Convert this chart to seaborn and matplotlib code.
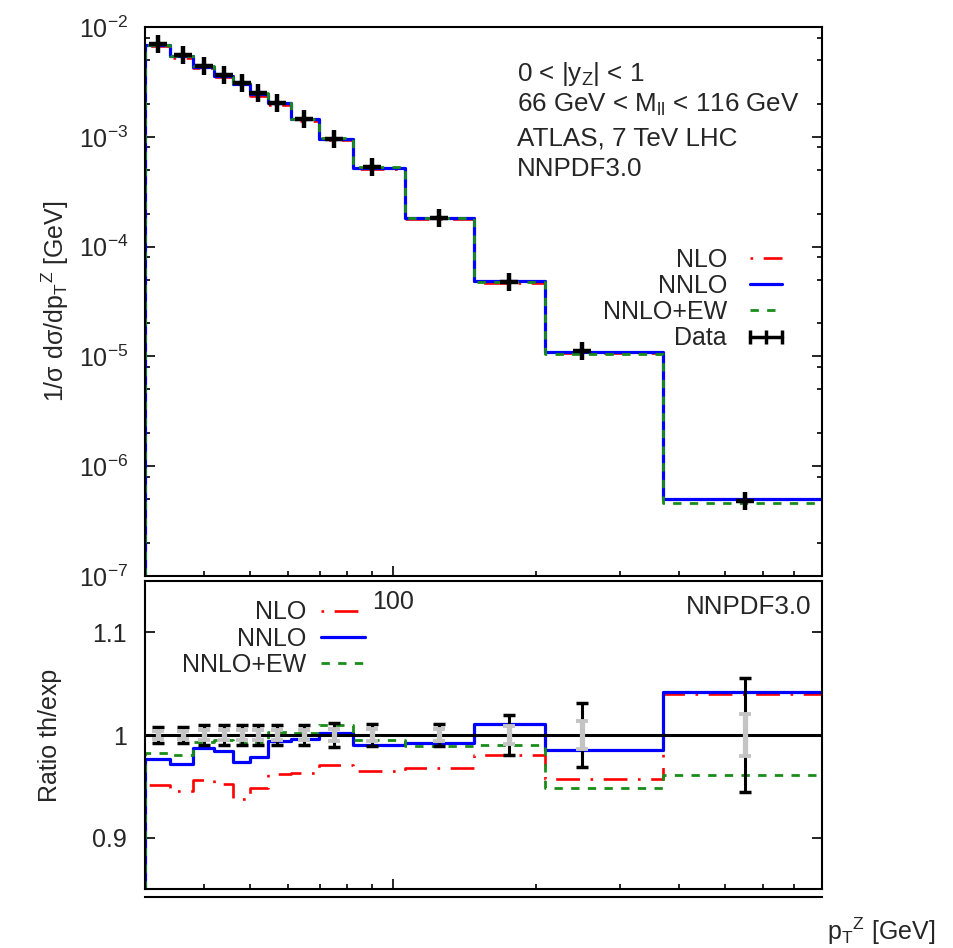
import numpy as np
import pandas as pd
import matplotlib
matplotlib.use("Agg")
import matplotlib.pyplot as plt
import seaborn as sns
from matplotlib.lines import Line2D
from matplotlib.ticker import LogLocator, FixedLocator, NullFormatter, FixedFormatter, LogFormatterMathtext, FuncFormatter, NullLocator

# ---------------- data ----------------
pt_center = [32, 36, 40, 44, 48, 52, 57, 65, 75, 90, 125, 175, 250, 550]
data = [7.0e-3, 5.56e-3, 4.4e-3, 3.66e-3, 3.1e-3, 2.5e-3, 2.03e-3, 1.45e-3,
        9.6e-4, 5.3e-4, 1.83e-4, 4.8e-5, 1.12e-5, 4.8e-7]
ratio_nlo = [0.951, 0.945, 0.956, 0.952, 0.938, 0.948, 0.962, 0.963,
             0.971, 0.965, 0.968, 0.981, 0.957, 1.040]
ratio_nnlo = [0.977, 0.972, 0.987, 0.984, 0.974, 0.979, 0.994, 0.996,
              1.002, 0.990, 0.992, 1.011, 0.985, 1.042]
ratio_nnlo_ew = [0.982, 0.981, 0.993, 0.995, 0.992, 0.993, 1.003, 1.002,
                 1.010, 0.995, 0.989, 0.990, 0.948, 0.961]
err_tot = [0.008, 0.008, 0.010, 0.010, 0.010, 0.010, 0.010, 0.010,
           0.012, 0.011, 0.011, 0.019, 0.031, 0.056]
err_stat = [0.004, 0.004, 0.005, 0.005, 0.005, 0.005, 0.005, 0.005,
            0.006, 0.006, 0.006, 0.009, 0.014, 0.020]
series_labels = ["NLO", "NNLO", "NNLO+EW"]
x_tick_label = ["100"]

# ---------------- style ----------------
sns.set_style("ticks")
plt.rcParams["font.family"] = ["Liberation Sans", "DejaVu Sans"]
plt.rcParams["mathtext.fontset"] = "custom"
plt.rcParams["mathtext.rm"] = "Liberation Sans"
plt.rcParams["mathtext.it"] = "Liberation Sans:italic"
plt.rcParams["mathtext.bf"] = "Liberation Sans:bold"
plt.rcParams["mathtext.default"] = "regular"
plt.rcParams["axes.linewidth"] = 1.5
plt.rcParams["axes.edgecolor"] = "black"

FS = 18
FS_NOTE = 18.7
XMIN, XMAX = 30, 800
TOP_YMIN, TOP_YMAX = 1e-7, 1e-2
R_YMIN, R_YMAX = 0.85, 1.15

colors = {"NLO": "#ff0000", "NNLO": "#0000ff", "NNLO+EW": "#1a8c1a"}
styles = {"NLO": (0, (1, 4, 9, 4)), "NNLO": "-", "NNLO+EW": (0, (3, 3))}
widths = {"NLO": 1.9, "NNLO": 2.3, "NNLO+EW": 2.0}

fig = plt.figure(figsize=(9.54, 9.48), dpi=100)
L = 145 / 954
W = (822 - 145) / 954
ax1 = fig.add_axes([L, 1 - 576 / 948, W, (576 - 27) / 948])
ax2 = fig.add_axes([L, 1 - 889 / 948, W, (889 - 581) / 948])
ax3 = fig.add_axes([L, 0, W, 1 - 897 / 948])
ax1.set_zorder(3)
ax1.patch.set_alpha(0)

for ax in (ax1, ax2):
    ax.set_xscale("log")
    ax.set_xlim(XMIN, XMAX)
ax1.set_yscale("log")
ax1.set_ylim(TOP_YMIN, TOP_YMAX)
ax2.set_ylim(R_YMIN, R_YMAX)

x = np.asarray(pt_center, float)
edges = np.sqrt(x[:-1] * x[1:])
step_x = np.concatenate([[XMIN, XMIN], edges, [XMAX]])


def stepify(vals, bottom):
    v = np.asarray(vals, float)
    return np.concatenate([[bottom], v, [v[-1]]])


ratios = {"NLO": ratio_nlo, "NNLO": ratio_nnlo, "NNLO+EW": ratio_nnlo_ew}
for lab in series_labels:
    r = np.asarray(ratios[lab])
    th = np.asarray(data) * r
    sns.lineplot(x=step_x, y=stepify(th, TOP_YMIN), ax=ax1, sort=False, estimator=None,
                 drawstyle="steps-post", color=colors[lab], linestyle=styles[lab],
                 linewidth=widths[lab], legend=False)
    sns.lineplot(x=step_x, y=stepify(r, R_YMIN), ax=ax2, sort=False, estimator=None,
                 drawstyle="steps-post", color=colors[lab], linestyle=styles[lab],
                 linewidth=widths[lab], legend=False)

# data in top panel
d = np.asarray(data)
ax1.errorbar(pt_center, d, yerr=d * np.asarray(err_tot), fmt="+", color="black",
             ms=13, mew=3.2, elinewidth=2, capsize=0, zorder=5)

# ratio panel
ax2.axhline(1.0, color="black", lw=2.2, zorder=3)
ones = np.ones(len(pt_center))
ax2.errorbar(pt_center, ones, yerr=err_tot, fmt="none", ecolor="black",
             elinewidth=2.2, capsize=4.5, capthick=2.5, zorder=4)
ax2.errorbar(pt_center, ones, yerr=err_stat, fmt="none", ecolor="#c4c4c4",
             elinewidth=3.8, capsize=4, capthick=2.8, zorder=5)

# ticks
for ax in (ax1, ax2):
    ax.xaxis.set_major_locator(FixedLocator([100]))
    ax.xaxis.set_minor_locator(FixedLocator([30, 40, 50, 60, 70, 80, 90, 200, 300, 400, 500, 600, 700, 800]))
    ax.xaxis.set_minor_formatter(NullFormatter())
    ax.tick_params(axis="both", which="both", direction="in", right=True, top=False,
                   labelsize=FS, width=1.2, color="black")
    ax.tick_params(which="major", length=7)
    ax.tick_params(which="minor", length=3.5)

ax1.xaxis.set_major_formatter(FixedFormatter(x_tick_label))
ax1.tick_params(axis="x", which="major", pad=10)
ax1.tick_params(axis="y", which="major", pad=12)
ax2.tick_params(axis="y", which="major", pad=13)
ax2.xaxis.set_major_formatter(NullFormatter())

ax1.yaxis.set_major_locator(LogLocator(base=10, numticks=20))
ax1.yaxis.set_minor_locator(LogLocator(base=10, subs=(2.0, 5.0, 8.0), numticks=20))
ax1.yaxis.set_minor_formatter(NullFormatter())
ax1.yaxis.set_major_formatter(LogFormatterMathtext())

ax2.yaxis.set_major_locator(FixedLocator([0.9, 1.0, 1.1]))
ax2.yaxis.set_minor_locator(NullLocator())
ax2.yaxis.set_major_formatter(FuncFormatter(lambda v, p: f"{v:g}"))

# labels
ax1.set_ylabel(r"1/σ dσ/dp$_T$$^Z$ [GeV]", fontsize=FS)
ax1.yaxis.set_label_coords(-0.11, 0.5)
ax2.set_ylabel("Ratio th/exp", fontsize=FS)
ax2.yaxis.set_label_coords(-0.123, 0.5)
ax2.set_xlabel(r"p$_T$$^Z$ [GeV]", fontsize=FS, ha="right")
ax2.xaxis.set_label_coords(1.167, -0.085)

# annotations
notes = [r"0 < |y$_Z$| < 1", r"66 GeV < M$_{ll}$ < 116 GeV", "ATLAS, 7 TeV LHC", "NNPDF3.0"]
for t, yy in zip(notes, [0.914, 0.858, 0.797, 0.742]):
    ax1.text(0.549, yy, t, transform=ax1.transAxes, fontsize=FS_NOTE, ha="left", va="center")
ax2.text(0.985, 0.916, "NNPDF3.0", transform=ax2.transAxes, fontsize=FS_NOTE, ha="right", va="center")

# legends
handles = [Line2D([], [], color=colors[l], linestyle=styles[l], lw=widths[l]) for l in series_labels]
data_handle = Line2D([], [], color="black", lw=2.5, marker="|", ms=10, mew=2.5)
ax1.legend(handles + [data_handle], series_labels + ["Data"], loc="upper right",
           bbox_to_anchor=(0.952, 0.598), markerfirst=False, frameon=False, numpoints=3,
           handlelength=1.9, fontsize=FS, labelspacing=0.09, borderpad=0, borderaxespad=0,
           handletextpad=0.6)
ax2.legend(handles, series_labels, loc="upper right", bbox_to_anchor=(0.325, 0.937),
           markerfirst=False, frameon=False, handlelength=1.75, fontsize=FS,
           labelspacing=0.09, borderpad=0, borderaxespad=0, handletextpad=0.6)

# extra frame line below the ratio panel
ax3.set_xticks([])
ax3.set_yticks([])
for s in ("left", "right", "bottom"):
    ax3.spines[s].set_visible(False)
ax3.patch.set_alpha(0)

fig.savefig("out.png", dpi=100)
